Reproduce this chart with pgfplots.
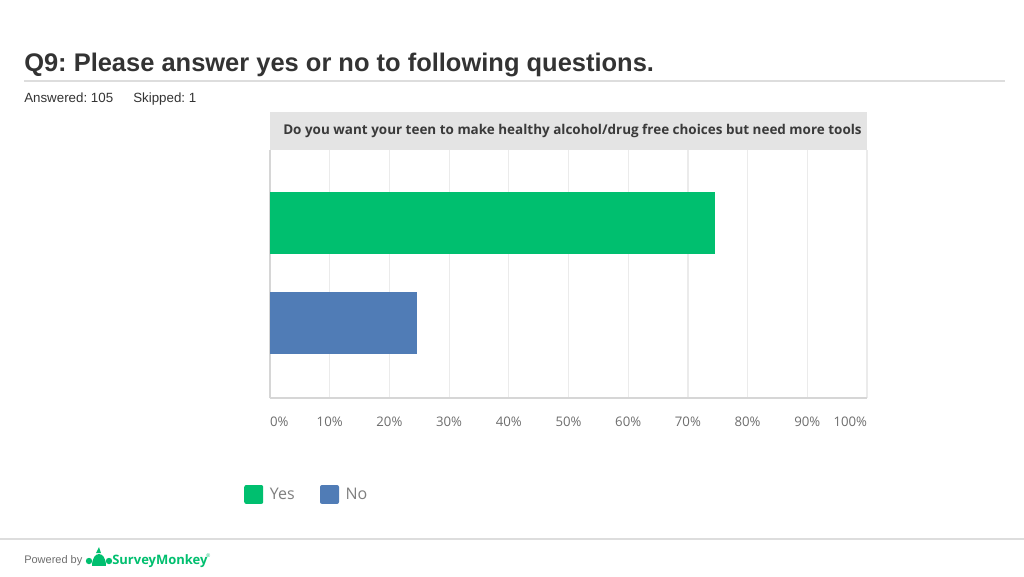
\documentclass[border=0pt]{standalone}
\usepackage{pgfplots}
\pgfplotsset{compat=1.18}
\usepackage{fontspec}
\setmainfont{Liberation Sans}
\newfontfamily\os{Open Sans}
\frenchspacing

\definecolor{smgreen}{HTML}{00BF6F}
\definecolor{smblue}{HTML}{507CB6}
\definecolor{titlegray}{HTML}{333333}
\definecolor{bandgray}{HTML}{E4E4E4}
\definecolor{bandtext}{HTML}{3A3A3A}
\definecolor{gridgray}{HTML}{EBEBEB}
\definecolor{axisgray}{HTML}{D6D6D6}
\definecolor{tickgray}{HTML}{6E6E6E}
\definecolor{leggray}{HTML}{7F7F7F}
\definecolor{linegray}{HTML}{DDDDDD}

\begin{document}
\begin{tikzpicture}
% page in pixels: 1px = 0.75pt, y down
\begin{scope}[x=0.75pt,y=-0.75pt]
\fill[white] (0,0) rectangle (1024,576);
\useasboundingbox (0,0) rectangle (1024,576);

% header
\node[anchor=base west, inner sep=0, text=titlegray,
  font=\fontsize{19.1}{22}\selectfont\bfseries] at (24,71)
  {Q9: Please answer yes or no to following questions.};
\draw[linegray, line width=0.8pt] (24,81) -- (1005,81);
\node[anchor=base west, inner sep=0, text=titlegray,
  font=\fontsize{10}{12}\selectfont] at (24,102) {Answered: 105};
\node[anchor=base west, inner sep=0, text=titlegray,
  font=\fontsize{10}{12}\selectfont] at (133,102) {Skipped: 1};

% question band
\fill[bandgray] (270,112) rectangle (866.5,150);
\node[anchor=west, inner sep=0, text=bandtext,
  font=\os\bfseries\fontsize{10.1}{12}\selectfont] at (283,131)
  {Do you want your teen to make healthy alcohol/drug free choices but need more tools};

% footer
\draw[linegray, line width=1.2pt] (0,539) -- (1024,539);
\node[anchor=base west, inner sep=0, text=tickgray,
  font=\fontsize{8.25}{10}\selectfont] at (24,563) {Powered by};
\fill[smgreen] (92,566) .. controls (92,550) and (106,550) .. (106,566) -- cycle;
\fill[smgreen] (89,561) circle (3.2);
\fill[smgreen] (109,561) circle (3.2);
\fill[smgreen] (96,553) -- (99,547) -- (101,553) -- cycle;
\node[anchor=base west, inner sep=0, text=smgreen,
  font=\os\bfseries\fontsize{9.75}{12}\selectfont] at (112,564) {SurveyMonkey};
\node[anchor=base west, inner sep=0, text=smgreen,
  font=\fontsize{4}{5}\selectfont] at (206,557) {®};
\end{scope}

\begin{axis}[
  at={(202.5pt,-298.5pt)}, anchor=south west,
  width=447.75pt, height=186pt, scale only axis,
  xbar, bar width=0.62, bar shift=0pt,
  xmin=0, xmax=100, ymin=-0.75, ymax=1.73,
  axis x line*=bottom, axis y line*=left,
  axis line style={draw=axisgray, line width=0.9pt},
  ytick=\empty,
  xtick={0,10,...,100},
  xticklabels={\makebox[0pt][l]{0\%},10\%,20\%,30\%,40\%,50\%,60\%,70\%,80\%,90\%,\makebox[0pt][r]{100\%}},
  xticklabel style={font=\os\fontsize{9.9}{12}\selectfont, text=tickgray, yshift=-11pt},
  major tick length=0pt,
  xmajorgrids, grid style={gridgray, line width=0.9pt},
  legend columns=2,
  legend style={at={(-0.0503,-0.339)}, anchor=north west, draw=none, fill=none,
    font=\os\fontsize{12}{14}\selectfont, text=leggray,
    /tikz/every even column/.append style={column sep=17pt}},
  legend image code/.code={\fill[#1, draw=none, rounded corners=1.5pt] (0pt,-7.1pt) rectangle (14.25pt,7.1pt);\path (17.25pt,0pt);},
]
\addplot[fill=smgreen, draw=none] coordinates {(74.6,1)};
\addplot[fill=smblue, draw=none] coordinates {(24.7,0)};
\legend{Yes,No}
\end{axis}
\end{tikzpicture}
\end{document}
